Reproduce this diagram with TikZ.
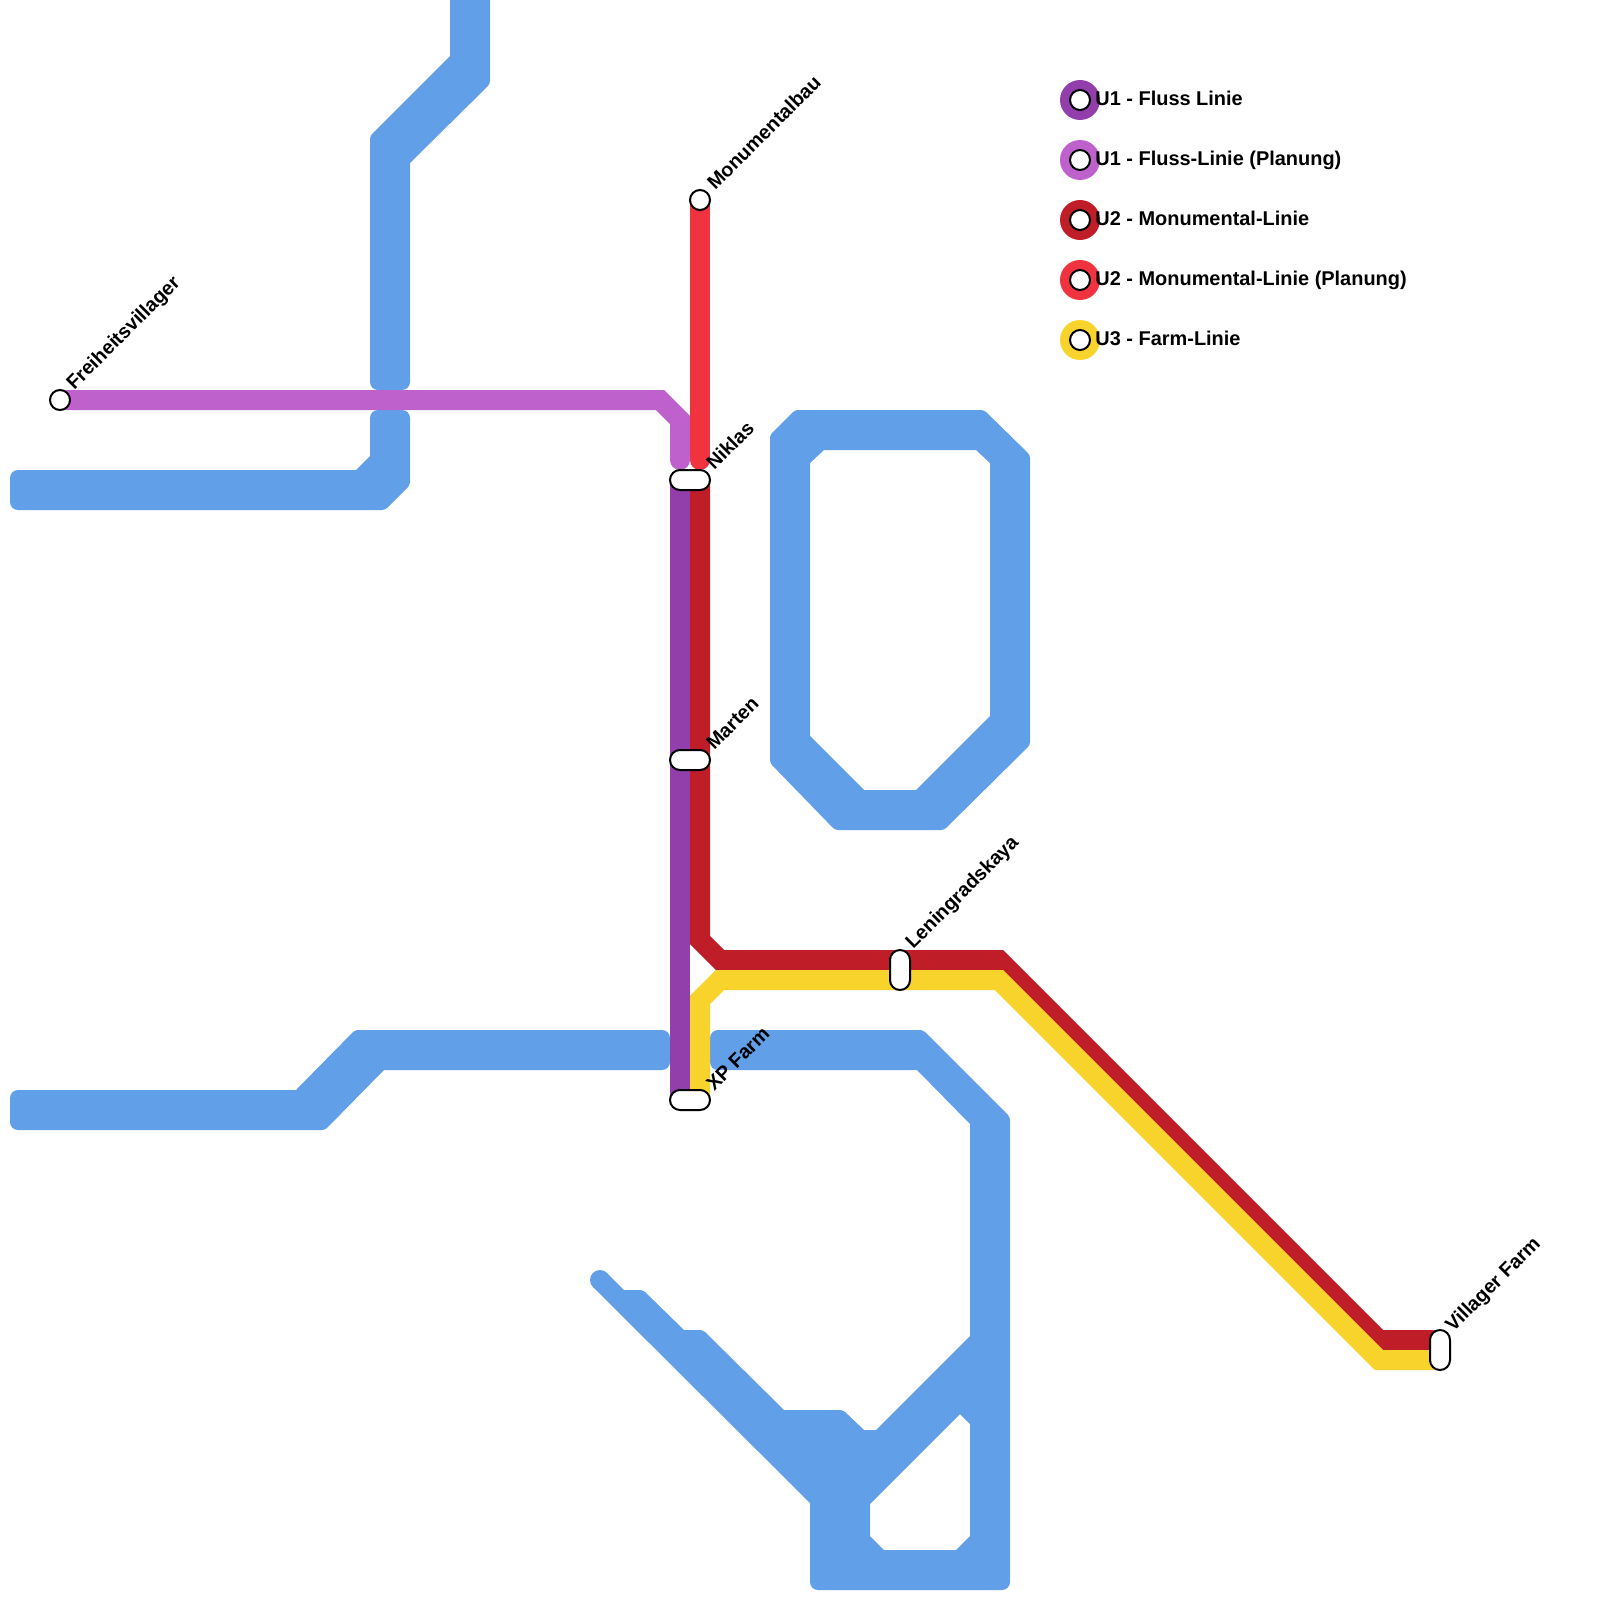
\documentclass[tikz,border=0pt]{standalone}
\usepackage{fontspec}
\setmainfont{Liberation Sans}
\usetikzlibrary{backgrounds}
\definecolor{water}{HTML}{629FE9}
\definecolor{uonep}{HTML}{923FAC}
\definecolor{uonel}{HTML}{BF61CC}
\definecolor{utwod}{HTML}{BF1E28}
\definecolor{utwol}{HTML}{F0333F}
\definecolor{uthree}{HTML}{F8D32B}
\tikzset{
  rc/.style={rounded corners=4pt},
  ro/.style={rounded corners=1.5pt},
  sc/.style={sharp corners},
  river/.style={fill=water,draw=none,even odd rule,rc},
  metro/.style={line width=10pt,line join=miter,miter limit=10},
  planned/.style={metro,line cap=round},
  hstop/.style={draw=black,fill=white,line width=1pt,minimum width=20pt,minimum height=10pt,inner sep=0pt,rounded corners=5pt},
  vstop/.style={draw=black,fill=white,line width=1pt,minimum width=10pt,minimum height=20pt,inner sep=0pt,rounded corners=5pt},
  rstop/.style={circle,draw=black,fill=white,line width=1pt,minimum size=10pt,inner sep=0pt},
  swatch/.style={circle,minimum size=20pt,inner sep=0pt},
  stoplabel/.style={anchor=base west,inner sep=0pt,rotate=45,font=\bfseries\fontsize{9.85}{12}\selectfont},
  legendlabel/.style={anchor=base west,inner sep=0pt,font=\bfseries\fontsize{9.97}{12}\selectfont},
}
\begin{document}
\begin{tikzpicture}[x=0.5pt,y=-0.5pt]
\useasboundingbox (0,0) rectangle (1600,1600);

% stations
\node[rstop] (frei) at (60,400) {};
\node[rstop] (mon) at (700,200) {};
\node[hstop] (niklas) at (690,480) {};
\node[hstop] (marten) at (690,760) {};
\node[hstop] (xp) at (690,1100) {};
\node[vstop] (lenin) at (900,970) {};
\node[vstop] (villager) at (1440,1350) {};

\coordinate (lilaEnd) at (680,460);
\coordinate (rotEnd) at (700,460);

\begin{scope}[on background layer]
  \fill[white] (0,0) rectangle (1600,1600);
  % rivers
  \fill[river] (470,0)[sc] -- (490,0)[ro] -- (490,84)[sc] -- (410,163)[rc] -- (410,390) -- (370,390)[ro] -- (370,136)[sc] -- (450,56) -- (450,0) -- cycle;
  \fill[river] (390,410) -- (410,410)[ro] -- (410,485) -- (385,510)[rc] -- (10,510) -- (10,470)[sc] -- (356,470) -- (370,456)[rc] -- (370,410) -- cycle;
  \fill[river] (100,1090)[sc] -- (296,1090)[ro] -- (355,1030)[rc] -- (670,1030) -- (670,1070)[sc] -- (384,1070)[ro] -- (325,1130)[rc] -- (10,1130) -- (10,1090) -- cycle;
  \fill[river,ro] (900,410) -- (984,410) -- (1030,455) -- (1030,745) -- (944,830) -- (835,830) -- (770,763) -- (770,435) -- (795,410) -- cycle [sc]
     (824,450) -- (976,450) -- (990,463) -- (990,716) -- (916,790) -- (864,790) -- (810,736) -- (810,463) -- cycle;
  \fill[river] (1010,1300) -- (1010,1590) -- (810,1590)[sc] -- (810,1503) -- (593,1287) -- (607,1273) -- (624,1290)[ro] -- (643,1290)[sc] -- (684,1330)[ro] -- (703,1330)[sc] -- (784,1410)[ro] -- (843,1410)[sc] -- (864,1430) -- (876,1430) -- (970,1336) -- (970,1124) -- (917,1070)[rc] -- (710,1070) -- (710,1030)[ro] -- (923,1030) -- (1010,1117) -- cycle [sc]
     (870,1504) -- (870,1536) -- (884,1550) -- (956,1550) -- (970,1536) -- (970,1424) -- (960,1414) -- cycle;
  \fill[water] (600,1280) circle[radius=5pt];
  % lines
  \draw[planned,uonel] (frei.center) -- (660,400) -- (680,420) -- (lilaEnd);
  \draw[planned,utwol] (mon.center) -- (rotEnd);
  \draw[metro,uonep] ([xshift=-5pt]niklas.center) -- ([xshift=-5pt]xp.center);
  \draw[metro,utwod] ([xshift=5pt]niklas.center) -- (700,940) -- (720,960) -- (999,960) -- (1379,1340) -- ([yshift=5pt]villager.center);
  \draw[metro,uthree] ([xshift=5pt]xp.center) -- (700,1000) -- (720,980) -- (999,980) -- (1379,1360) -- ([yshift=-5pt]villager.center);
\end{scope}

% station labels
\node[stoplabel] (tfrei) at (74,391) {Freiheitsvillager};
\node[stoplabel] (tmon) at (715,191) {Monumentalbau};
\node[stoplabel] (tniklas) at (714,471) {Niklas};
\node[stoplabel] (tmarten) at (714,751) {Marten};
\node[stoplabel] (txp) at (714,1092) {XP Farm};
\node[stoplabel] (tlenin) at (913,950) {Leningradskaya};
\node[stoplabel] (tvillager) at (1453,1333) {Villager Farm};

% legend
\node[swatch,fill=uonep] (s1) at (1080,100) {};
\node[swatch,fill=uonel] (s2) at (1080,160) {};
\node[swatch,fill=utwod] (s3) at (1080,220) {};
\node[swatch,fill=utwol] (s4) at (1080,280) {};
\node[swatch,fill=uthree] (s5) at (1080,340) {};
\node[rstop] (d1) at (1080,100) {};
\node[rstop] (d2) at (1080,160) {};
\node[rstop] (d3) at (1080,220) {};
\node[rstop] (d4) at (1080,280) {};
\node[rstop] (d5) at (1080,340) {};
\node[legendlabel] (l1) at (1095,105) {U1 - Fluss Linie};
\node[legendlabel] (l2) at (1095,165) {U1 - Fluss-Linie (Planung)};
\node[legendlabel] (l3) at (1095,225) {U2 - Monumental-Linie};
\node[legendlabel] (l4) at (1095,285) {U2 - Monumental-Linie (Planung)};
\node[legendlabel] (l5) at (1095,345) {U3 - Farm-Linie};
\end{tikzpicture}
\end{document}
